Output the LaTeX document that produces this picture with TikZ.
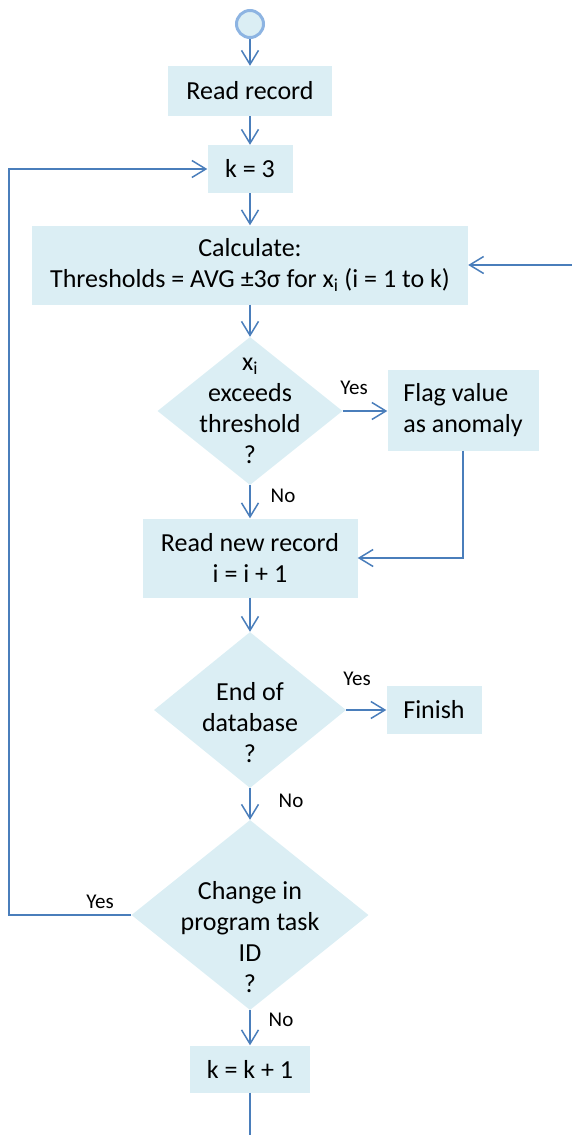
\documentclass[tikz,border=0pt]{standalone}
\usepackage{fontspec}
\setmainfont{Carlito}
\usepackage{tikz}
\usetikzlibrary{shapes.geometric}
\usetikzlibrary{arrows.meta}
\usetikzlibrary{positioning}
\definecolor{BoxFill}{RGB}{219,238,244}
\definecolor{LineBlue}{RGB}{74,126,187}
\definecolor{RingBlue}{RGB}{141,180,226}
\tikzset{flow/.style={-{Straight Barb[length=14pt,width=17pt]},line width=1.5pt,draw=LineBlue}}
\tikzset{plain/.style={line width=1.5pt,draw=LineBlue}}

\begin{document}
\begin{tikzpicture}[x=1pt,y=-1pt]
		\tikzstyle{Step}=[rectangle,fill=BoxFill,inner sep=0pt,align=center,font=\fontsize{26}{31}\selectfont]
		\tikzstyle{Choice}=[diamond,fill=BoxFill,inner sep=0pt]
		\tikzstyle{Start}=[circle,fill=BoxFill,draw=RingBlue,line width=3pt,minimum size=27pt,inner sep=0pt]
		\tikzstyle{Caption}=[align=center,inner sep=0pt,font=\fontsize{26}{31}\selectfont]
		\tikzstyle{Answer}=[inner sep=0pt,font=\fontsize{21}{24}\selectfont]

		\def\colX {250}

		\useasboundingbox (0,0) rectangle (572,1135);

		\node [Start] (Begin) at (\colX,24) {};
		\node [Step, minimum width=164, minimum height=50] (Read) at (\colX,91) {Read record};
		\node [Step, minimum width=85, minimum height=48] (Kset) at (\colX,169) {k = 3};
		\node [Step, minimum width=436, minimum height=79] (Calc) at (\colX,265) {Calculate:\\Thresholds = AVG ±3σ for x\textsubscript{i} (i = 1 to k)};
		\node [Choice, minimum width=185, minimum height=148] (Exceed) at (\colX,411) {};
		\node [Caption] at (Exceed.center) {x\textsubscript{i}\\exceeds\\threshold\\?};
		\node [Step, minimum width=151, minimum height=81, align=left] (Flag) at (463,410) {Flag value\\as anomaly};
		\node [Step, minimum width=215, minimum height=79] (ReadNew) at (\colX,558) {Read new record\\i = i + 1};
		\node [Choice, minimum width=192, minimum height=156] (EndDb) at (\colX,710) {};
		\node [Caption] at ([yshift=-13]EndDb.center) {End of\\database\\?};
		\node [Step, minimum width=95, minimum height=48] (Finish) at (434,710) {Finish};
		\node [Choice, minimum width=237, minimum height=190] (TaskId) at (\colX,915) {};
		\node [Caption] at ([yshift=-22]TaskId.center) {Change in\\program task\\ID\\?};
		\node [Step, minimum width=120, minimum height=47] (Kinc) at (\colX,1069) {k = k + 1};

		\node [Answer] (YesA) at (354,388) {Yes};
		\node [Answer] (NoA) at (283,496) {No};
		\node [Answer] (YesB) at (357,679) {Yes};
		\node [Answer] (NoB) at (291,801) {No};
		\node [Answer] (YesC) at (100,902) {Yes};
		\node [Answer] (NoC) at (281,1020) {No};

		\coordinate (LoopLeft) at (9,0);
		\coordinate (FromRight) at (572,265);
		\coordinate (ToBelow) at (\colX,1135);

		\draw [flow] (Begin) -- (Read);
		\draw [flow] (Read) -- (Kset);
		\draw [flow] (Kset) -- (Calc);
		\draw [flow] (FromRight) -- (Calc);
		\draw [flow] (Calc) -- (Exceed);
		\draw [flow] (Exceed.east) -- (Exceed.east -| Flag.west);
		\draw [flow] (Exceed) -- (ReadNew);
		\draw [flow] (Flag) |- (ReadNew);
		\draw [flow] (ReadNew) -- (EndDb);
		\draw [flow] (EndDb) -- (Finish);
		\draw [flow] (EndDb) -- (TaskId);
		\draw [flow] (TaskId) -- (Kinc);
		\draw [flow] (TaskId.west) -- (TaskId.west -| LoopLeft) |- (Kset.west);
		\draw [plain] (Kinc) -- (ToBelow);

\end{tikzpicture}
\end{document}
